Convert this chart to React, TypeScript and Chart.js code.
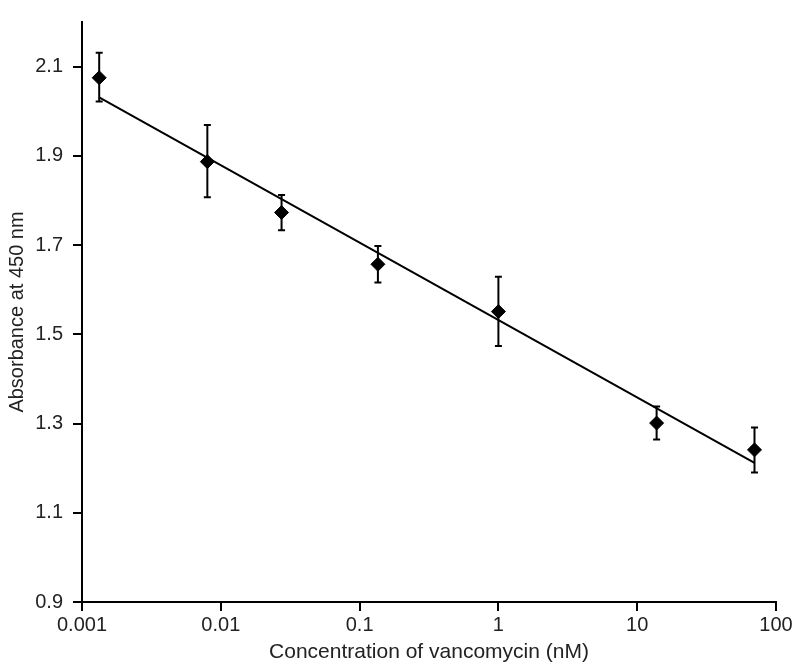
import React, { useEffect, useRef } from "react";
import { Chart, registerables } from "chart.js";

Chart.register(...registerables);

// Concentration of vancomycin (nM)
const concentrations = [0.00133, 0.008, 0.0274, 0.1355, 1.0, 13.8, 70];
// Absorbance at 450 nm (mean)
const absorbance = [2.075, 1.887, 1.773, 1.657, 1.551, 1.301, 1.241];
// Error bar ends
const errUpper = [2.131, 1.969, 1.812, 1.698, 1.629, 1.338, 1.291];
const errLower = [2.022, 1.807, 1.733, 1.616, 1.474, 1.264, 1.19];
// Linear fit (log x) end points
const fitX = [0.00133, 70];
const fitY = [2.031, 1.212];
// Tick values
const xTicks = [0.001, 0.01, 0.1, 1, 10, 100];
const yTicks = [0.9, 1.1, 1.3, 1.5, 1.7, 1.9, 2.1];

const FONT = "'Liberation Sans', Arial, sans-serif";
const TEXT = "#222";

const errorBars = {
  id: "errorBars",
  beforeDatasetsDraw(chart: any) {
    const { ctx } = chart;
    const x = chart.scales.x;
    const y = chart.scales.y;
    ctx.save();
    ctx.strokeStyle = "#000";
    ctx.lineWidth = 2;
    concentrations.forEach((c, i) => {
      const px = x.getPixelForValue(c);
      const top = y.getPixelForValue(errUpper[i]);
      const bot = y.getPixelForValue(errLower[i]);
      ctx.beginPath();
      ctx.moveTo(px, top);
      ctx.lineTo(px, bot);
      ctx.moveTo(px - 3.5, top);
      ctx.lineTo(px + 3.5, top);
      ctx.moveTo(px - 3.5, bot);
      ctx.lineTo(px + 3.5, bot);
      ctx.stroke();
    });
    ctx.restore();
  },
};

export default function App() {
  const ref = useRef<HTMLCanvasElement>(null);

  useEffect(() => {
    if (!ref.current) return;
    const chart = new Chart(ref.current, {
      type: "scatter",
      data: {
        datasets: [
          {
            label: "Fit",
            data: fitX.map((v, i) => ({ x: v, y: fitY[i] })),
            showLine: true,
            borderColor: "#000",
            borderWidth: 2,
            pointRadius: 0,
            fill: false,
          },
          {
            label: "Absorbance",
            data: concentrations.map((v, i) => ({ x: v, y: absorbance[i] })),
            pointStyle: "rectRot",
            pointRadius: 7,
            backgroundColor: "#000",
            borderColor: "#000",
            borderWidth: 1,
          },
        ],
      } as any,
      options: {
        animation: false,
        responsive: false,
        layout: { padding: { left: 0, top: 8, right: 24, bottom: 0 } },
        plugins: {
          legend: { display: false },
          tooltip: { enabled: false },
        },
        scales: {
          x: {
            type: "logarithmic",
            min: 0.001,
            max: 100,
            afterBuildTicks: (scale: any) => {
              scale.ticks = xTicks.map((v) => ({ value: v, major: true }));
            },
            afterFit: (scale: any) => {
              scale.height = 69;
            },
            border: { display: true, color: "#000", width: 2 },
            grid: {
              display: true,
              drawOnChartArea: false,
              drawTicks: true,
              tickLength: 9,
              color: "#000",
              lineWidth: 2,
            },
            ticks: {
              autoSkip: false,
              maxRotation: 0,
              padding: 2,
              color: TEXT,
              font: { family: FONT, size: 20 },
              callback: (v: any) => String(v),
            },
            title: {
              display: true,
              text: "Concentration of vancomycin (nM)",
              color: TEXT,
              font: { family: FONT, size: 21 },
              padding: { top: 0, bottom: 6 },
            },
          },
          y: {
            type: "linear",
            min: 0.9,
            max: 2.2,
            afterBuildTicks: (scale: any) => {
              scale.ticks = yTicks.map((v) => ({ value: v }));
            },
            afterFit: (scale: any) => {
              scale.width = 82;
            },
            border: { display: true, color: "#000", width: 2 },
            grid: {
              display: true,
              drawOnChartArea: false,
              drawTicks: true,
              tickLength: 9,
              color: "#000",
              lineWidth: 2,
            },
            ticks: {
              padding: 10,
              color: TEXT,
              font: { family: FONT, size: 20 },
              callback: (v: any) => Number(v).toFixed(1),
            },
            title: {
              display: true,
              text: "Absorbance at 450 nm",
              color: TEXT,
              font: { family: FONT, size: 20 },
              padding: { top: 5, bottom: 0 },
            },
          },
        },
      },
      plugins: [errorBars],
    } as any);
    return () => chart.destroy();
  }, []);

  return (
    <div style={{ position: "absolute", left: 0, top: 0, width: 800, height: 671, background: "#fff" }}>
      <canvas ref={ref} width={800} height={671} style={{ display: "block" }} />
    </div>
  );
}
